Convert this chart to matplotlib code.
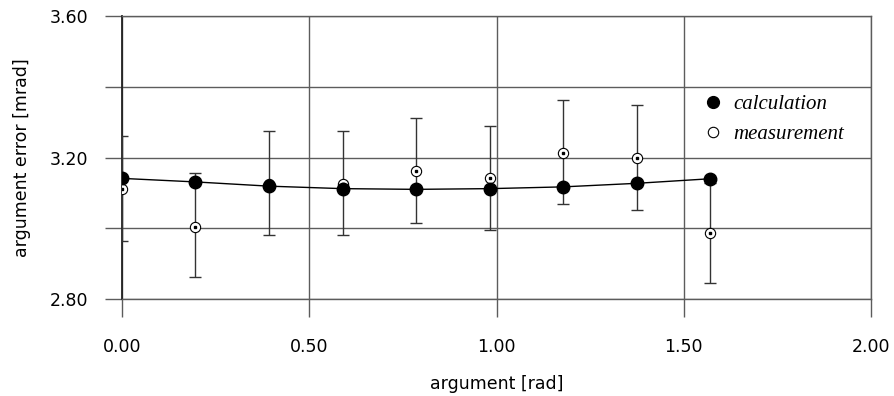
"""Argument error vs. argument: calculation and measurement with error bars."""

import matplotlib

matplotlib.use("Agg")
from matplotlib import pyplot as plt  # noqa: E402
from matplotlib.lines import Line2D  # noqa: E402
from matplotlib.ticker import FixedFormatter, FixedLocator  # noqa: E402

# argument values [rad], steps of pi/16
argument = [0.0, 0.196, 0.393, 0.589, 0.785, 0.982, 1.178, 1.374, 1.571]
calculation = [3.141, 3.131, 3.119, 3.112, 3.110, 3.112, 3.117, 3.127, 3.140]
measurement = [3.110, 3.004, 3.126, 3.126, 3.162, 3.141, 3.213, 3.198, 2.986]
err_low = [0.145, 0.142, 0.146, 0.146, 0.147, 0.147, 0.145, 0.145, 0.142]
err_high = [0.150, 0.153, 0.148, 0.148, 0.149, 0.147, 0.150, 0.150, 0.142]

x_ticks = [0.0, 0.5, 1.0, 1.5, 2.0]
x_tick_labels = ["0.00", "0.50", "1.00", "1.50", "2.00"]
y_ticks = [2.8, 3.0, 3.2, 3.4, 3.6]
y_tick_labels = ["2.80", "", "3.20", "", "3.60"]

GRID = "#5c5c5c"


def main() -> None:
    fig = plt.figure(figsize=(8.95, 3.96), dpi=100)
    ax = fig.add_axes([0.1363, 0.2449, 0.8369, 0.7147])

    ax.set_xlim(0, 2.0)
    ax.set_ylim(2.8, 3.6)
    ax.xaxis.set_major_locator(FixedLocator(x_ticks))
    ax.xaxis.set_major_formatter(FixedFormatter(x_tick_labels))
    ax.yaxis.set_major_locator(FixedLocator(y_ticks))
    ax.yaxis.set_major_formatter(FixedFormatter(y_tick_labels))
    ax.grid(True, color=GRID, linewidth=1.0)
    ax.set_axisbelow(True)

    for side in ("top", "right", "bottom"):
        ax.spines[side].set_color(GRID)
        ax.spines[side].set_linewidth(1.0)
    ax.spines["left"].set_color("#222222")
    ax.spines["left"].set_linewidth(1.3)

    ax.tick_params(axis="x", direction="out", length=13, width=1.0, color=GRID, pad=15, labelsize=12.5)
    ax.tick_params(axis="y", direction="out", length=12, width=1.0, color=GRID, pad=12, labelsize=12.5)

    ax.errorbar(argument, measurement, yerr=[err_low, err_high], fmt="none", ecolor="#333333",
                elinewidth=1.0, capsize=4, capthick=1.0, zorder=3)
    ax.plot(argument, measurement, "o", markersize=7.4, markerfacecolor="white",
            markeredgecolor="black", markeredgewidth=0.8, zorder=4)
    ax.plot(argument, measurement, "s", markersize=1.6, color="black", zorder=5)
    ax.plot(argument, calculation, "-", color="black", linewidth=1.0, marker="o", markersize=9,
            markerfacecolor="black", markeredgecolor="black", zorder=6)

    handles = [
        Line2D([], [], linestyle="none", marker="o", markersize=8.5, color="black"),
        Line2D([], [], linestyle="none", marker="o", markersize=7.5, markerfacecolor="white",
               markeredgecolor="black", markeredgewidth=0.8),
    ]
    ax.legend(handles, ["calculation", "measurement"], loc="upper left", bbox_to_anchor=(0.775, 0.722),
              frameon=False, borderpad=0, borderaxespad=0, handlelength=1.0, handletextpad=0.46,
              labelspacing=0.5, prop={"family": "Liberation Serif", "style": "italic", "size": 15})

    ax.set_xlabel("argument [rad]", fontsize=12.5)
    ax.set_ylabel("argument error [mrad]", fontsize=12.5)
    ax.xaxis.set_label_coords(0.5, -0.268)
    ax.yaxis.set_label_coords(-0.121, 0.5)

    fig.savefig("out.png", dpi=100)
    plt.close(fig)


if __name__ == "__main__":
    main()
